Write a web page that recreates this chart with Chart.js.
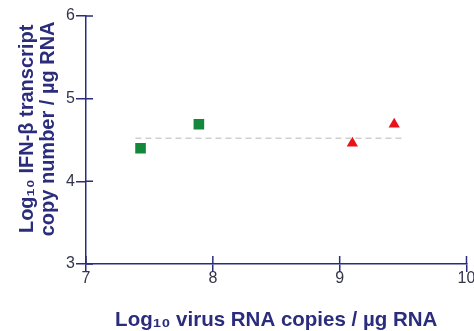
<!DOCTYPE html>
<html lang="en">
<head>
    <meta charset="utf-8">
    <title>IFN-beta vs virus RNA</title>
    <script src="https://cdn.jsdelivr.net/npm/chart.js"></script>
    <style>
        html, body { margin: 0; padding: 0; background: #fff; }
        #wrap { width: 474px; height: 331px; }
    </style>
</head>
<body>
    <div id="wrap"><canvas id="ifnChart"></canvas></div>

    <script>
        // values
        const greenX = [7.43, 7.89];
        const greenY = [4.40, 4.69];
        const redX = [9.10, 9.43];
        const redY = [4.46, 4.69];
        const meanLineX = [7.39, 9.49];
        const meanLineY = [4.52, 4.52];
        const xTicks = [7, 8, 9, 10];
        const yTicks = [3, 4, 5, 6];

        const navy = '#2b2d7c';
        const pts = (xs, ys) => xs.map((x, i) => ({ x: x, y: ys[i] }));

        // tick marks cross the axis: draw the inner half
        const innerTicks = {
            id: 'innerTicks',
            afterDraw(chart) {
                const ctx = chart.ctx;
                const xs = chart.scales.x, ys = chart.scales.y;
                ctx.save();
                ctx.strokeStyle = navy;
                ctx.lineWidth = 1.5;
                ctx.beginPath();
                xTicks.forEach(v => {
                    const px = xs.getPixelForValue(v);
                    ctx.moveTo(px, ys.bottom);
                    ctx.lineTo(px, ys.bottom - 8);
                });
                yTicks.forEach(v => {
                    const py = ys.getPixelForValue(v);
                    ctx.moveTo(xs.left, py);
                    ctx.lineTo(xs.left + 7, py);
                });
                ctx.stroke();
                ctx.restore();
            }
        };

        new Chart(document.getElementById('ifnChart'), {
            type: 'scatter',
            data: {
                datasets: [
                    {
                        data: pts(meanLineX, meanLineY),
                        type: 'line',
                        showLine: true,
                        borderColor: '#cfcfcf',
                        borderWidth: 1.5,
                        borderDash: [6, 4],
                        pointRadius: 0
                    },
                    {
                        data: pts(greenX, greenY),
                        pointStyle: 'rect',
                        pointRadius: 7.5,
                        backgroundColor: '#13873a',
                        borderColor: '#13873a',
                        borderWidth: 0
                    },
                    {
                        data: pts(redX, redY),
                        pointStyle: 'triangle',
                        pointRadius: 6.5,
                        backgroundColor: '#e8141c',
                        borderColor: '#e8141c',
                        borderWidth: 0
                    }
                ]
            },
            options: {
                responsive: true,
                maintainAspectRatio: false,
                animation: false,
                layout: { padding: { top: 16, right: 7, left: 0, bottom: 0 } },
                plugins: { legend: { display: false }, tooltip: { enabled: false } },
                scales: {
                    x: {
                        type: 'linear',
                        min: 7, max: 10,
                        afterFit: s => { s.height = 67; },
                        afterBuildTicks: s => { s.ticks = xTicks.map(v => ({ value: v })); },
                        border: { display: true, color: navy, width: 1.5 },
                        grid: { drawOnChartArea: false, color: navy, lineWidth: 1.5, tickLength: 8 },
                        ticks: { color: '#34344a', font: { family: 'Liberation Sans', size: 16 }, padding: -3 },
                        title: {
                            display: true,
                            text: 'Log\u2081\u2080 virus RNA copies / \u00b5g RNA',
                            color: navy,
                            font: { family: 'Liberation Sans', size: 20.5, weight: 'bold', lineHeight: 1 },
                            padding: { top: 0, bottom: 0 }
                        }
                    },
                    y: {
                        type: 'linear',
                        min: 3, max: 6,
                        afterFit: s => { s.width = 86; },
                        afterBuildTicks: s => { s.ticks = yTicks.map(v => ({ value: v })); },
                        border: { display: true, color: navy, width: 1.5 },
                        grid: { drawOnChartArea: false, color: navy, lineWidth: 1.5, tickLength: 10 },
                        ticks: { color: '#34344a', font: { family: 'Liberation Sans', size: 16 }, padding: 1 },
                        title: {
                            display: true,
                            text: ['    Log\u2081\u2080 IFN-\u03b2 transcript', '    copy number / \u00b5g RNA'],
                            color: navy,
                            font: { family: 'Liberation Sans', size: 20, weight: 'bold', lineHeight: 1.05 },
                            padding: { top: 16.5, bottom: 0 }
                        }
                    }
                }
            },
            plugins: [innerTicks]
        });
    </script>
</body>
</html>
